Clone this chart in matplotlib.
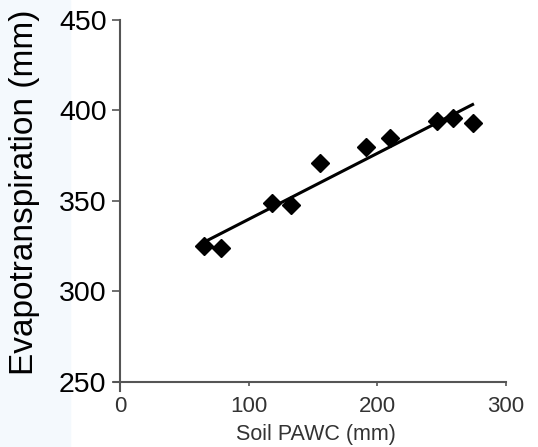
import matplotlib.pyplot as plt
import numpy as np
from matplotlib.patches import Rectangle

plt.rcParams['font.family'] = ['Liberation Sans', 'DejaVu Sans']

# Soil PAWC (mm) vs evapotranspiration (mm)
pawc = np.array([65, 78, 118, 133, 155, 191, 210, 246, 259, 274])
et = np.array([325, 324, 349, 348, 371, 380, 385, 394, 396, 393])

x_ticks = [0, 100, 200, 300]
y_ticks = [250, 300, 350, 400, 450]

fig = plt.figure(figsize=(5.38, 4.47), dpi=100)
# pale blue strip on the left edge
fig.patches.append(Rectangle((0, 0), 70 / 538, 1, transform=fig.transFigure,
                             color='#f4f9fd', zorder=-5))
ax = fig.add_axes([114 / 538, 1 - 391 / 447, 392 / 538, 371 / 447])
ax.patch.set_alpha(0)

# linear fit through the points
k, b = np.polyfit(pawc, et, 1)
xs = np.array([pawc.min() + 3, pawc.max()])
ax.plot(xs, k * xs + b, color='black', lw=2.2, zorder=2)
ax.plot(pawc, et, 'D', color='black', markersize=9.3, zorder=3)

ax.set_xlim(-5, 300)
ax.set_ylim(245, 450)
for s in ['top', 'right']:
    ax.spines[s].set_visible(False)
ax.spines['left'].set_position(('data', 0))
ax.spines['bottom'].set_position(('data', 250))
for s in ['left', 'bottom']:
    ax.spines[s].set_color('#555555')
    ax.spines[s].set_linewidth(1.5)

ax.set_xticks(x_ticks)
ax.set_yticks(y_ticks)
ax.tick_params(axis='y', direction='out', length=6, width=1.2, color='#555555',
               labelsize=20.5, pad=4, labelcolor='black')
ax.tick_params(axis='x', direction='out', length=3, width=1.2, color='#555555',
               labelsize=16, pad=7, labelcolor='#333333')

ax.set_xlabel('Soil PAWC (mm)', fontsize=15.5, color='#333333')
ax.set_ylabel('Evapotranspiration (mm)', fontsize=24)
ax.xaxis.set_label_coords(0.515, -0.09)
ax.yaxis.set_label_coords(-0.19, 0.536)

fig.savefig('out.png', dpi=100)
